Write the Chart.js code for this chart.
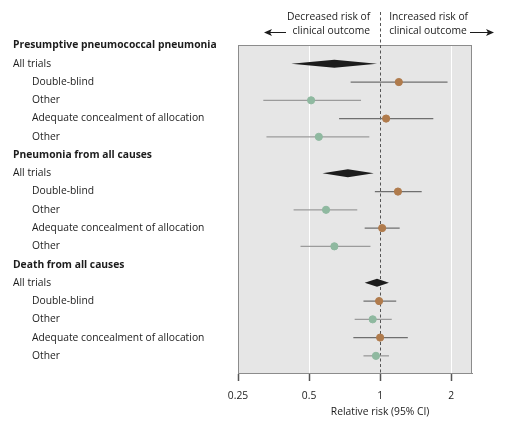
<!DOCTYPE html>
<html>
<head>
<meta charset="utf-8">
<script src="https://cdn.jsdelivr.net/npm/chart.js@4.4.0/dist/chart.umd.min.js"></script>
<style>
html, body { margin: 0; padding: 0; background: #fff; }
</style>
</head>
<body>
<canvas id="forest" width="508" height="427"></canvas>
<script>
// rows from top to bottom
let rowLabels = [
    'Presumptive pneumococcal pneumonia', 'All trials', 'Double-blind', 'Other', 'Adequate concealment of allocation', 'Other',
    'Pneumonia from all causes', 'All trials', 'Double-blind', 'Other', 'Adequate concealment of allocation', 'Other',
    'Death from all causes', 'All trials', 'Double-blind', 'Other', 'Adequate concealment of allocation', 'Other'
];
// header = outcome, pooled = all trials (diamond), a = double-blind / adequate, b = other
let rowKind = ['header', 'pooled', 'a', 'b', 'a', 'b',
               'header', 'pooled', 'a', 'b', 'a', 'b',
               'header', 'pooled', 'a', 'b', 'a', 'b'];
let estimate = [null, 0.64, 1.20, 0.51, 1.06, 0.55,
                null, 0.73, 1.19, 0.59, 1.02, 0.64,
                null, 0.97, 0.99, 0.93, 1.00, 0.96];
let lower = [null, 0.42, 0.75, 0.32, 0.67, 0.33,
             null, 0.57, 0.95, 0.43, 0.86, 0.46,
             null, 0.86, 0.85, 0.78, 0.77, 0.85];
let upper = [null, 0.97, 1.93, 0.83, 1.68, 0.90,
             null, 0.94, 1.50, 0.80, 1.21, 0.91,
             null, 1.09, 1.17, 1.12, 1.31, 1.09];
let xTicks = [0.25, 0.5, 1, 2];

const FONT = 'Open Sans';
const FSIZE = 10.3;
const brown = '#b07b4c';
const green = '#8fb9a0';

let rows = rowLabels.map((l, i) => i);

// CI whiskers, one small line dataset each
let ciSets = rows.filter(i => rowKind[i] === 'a' || rowKind[i] === 'b').map(i => ({
    type: 'line',
    data: [{x: lower[i], y: i}, {x: upper[i], y: i}],
    borderColor: rowKind[i] === 'a' ? '#6f6f6f' : '#9b9b9b',
    borderWidth: 1.3,
    pointRadius: 0,
    order: 2
}));

function pointSet(kind, color) {
    return {
        type: 'scatter',
        data: rows.filter(i => rowKind[i] === kind).map(i => ({x: estimate[i], y: i})),
        backgroundColor: color,
        borderColor: color,
        pointRadius: 3.6,
        order: 1
    };
}

const forestDecor = {
    id: 'forestDecor',
    beforeDraw(chart) {
        const {ctx, chartArea: a} = chart;
        ctx.save();
        ctx.fillStyle = '#e6e6e6';
        ctx.fillRect(a.left, a.top, a.right - a.left, a.bottom - a.top);
        ctx.restore();
    },
    beforeDatasetsDraw(chart) {
        const {ctx, chartArea: a, scales} = chart;
        ctx.save();
        ctx.strokeStyle = '#8c8c8c';
        ctx.lineWidth = 1;
        ctx.strokeRect(a.left + 0.5, a.top + 0.5, a.right - a.left - 1, a.bottom - a.top);
        // no-effect line at 1
        let x1 = Math.round(scales.x.getPixelForValue(1)) + 0.5;
        ctx.strokeStyle = '#555';
        ctx.setLineDash([3, 2.5]);
        ctx.beginPath();
        ctx.moveTo(x1, 12);
        ctx.lineTo(x1, a.bottom);
        ctx.stroke();
        ctx.restore();
    },
    afterDatasetsDraw(chart) {
        const {ctx, scales} = chart;
        ctx.save();
        ctx.fillStyle = '#1c1c1c';
        rows.filter(i => rowKind[i] === 'pooled').forEach(i => {
            let yc = scales.y.getPixelForValue(i);
            let xl = scales.x.getPixelForValue(lower[i]);
            let xm = scales.x.getPixelForValue(estimate[i]);
            let xr = scales.x.getPixelForValue(upper[i]);
            ctx.beginPath();
            ctx.moveTo(xl, yc);
            ctx.lineTo(xm, yc - 4);
            ctx.lineTo(xr, yc);
            ctx.lineTo(xm, yc + 4);
            ctx.closePath();
            ctx.fill();
        });
        ctx.restore();
    },
    afterDraw(chart) {
        const {ctx, scales} = chart;
        ctx.save();
        ctx.fillStyle = '#1c1c1c';
        ctx.textBaseline = 'middle';
        // row labels
        rows.forEach(i => {
            let y = scales.y.getPixelForValue(i);
            let head = rowKind[i] === 'header';
            ctx.font = (head ? 'bold ' : '') + FSIZE + 'px "' + FONT + '"';
            ctx.textAlign = 'left';
            let x = (head || rowKind[i] === 'pooled') ? 13 : 32;
            ctx.fillText(rowLabels[i], x, y);
        });
        // top annotation
        let x1 = scales.x.getPixelForValue(1);
        ctx.font = FSIZE + 'px "' + FONT + '"';
        ctx.textAlign = 'right';
        ctx.fillText('Decreased risk of', x1 - 10, 17);
        ctx.fillText('clinical outcome', x1 - 10, 31.5);
        ctx.textAlign = 'left';
        ctx.fillText('Increased risk of', x1 + 9, 17);
        ctx.fillText('clinical outcome', x1 + 9, 31.5);
        // arrows
        ctx.strokeStyle = '#1c1c1c';
        ctx.lineWidth = 1.2;
        ctx.beginPath();
        ctx.moveTo(286, 32.5); ctx.lineTo(268, 32.5);
        ctx.moveTo(470, 32.5); ctx.lineTo(490, 32.5);
        ctx.stroke();
        ctx.beginPath();
        ctx.moveTo(264, 32.5); ctx.lineTo(272, 29); ctx.lineTo(270, 32.5); ctx.lineTo(272, 36); ctx.closePath();
        ctx.moveTo(494, 32.5); ctx.lineTo(486, 29); ctx.lineTo(488, 32.5); ctx.lineTo(486, 36); ctx.closePath();
        ctx.fill();
        // axis title, centred under 1
        ctx.textAlign = 'center';
        ctx.fillText('Relative risk (95% CI)', x1, 412);
        ctx.restore();
    }
};

new Chart(document.getElementById('forest'), {
    data: {
        datasets: [...ciSets, pointSet('a', brown), pointSet('b', green)]
    },
    options: {
        responsive: false,
        animation: false,
        layout: { padding: { left: 238, right: 36, top: 45, bottom: 0 } },
        plugins: { legend: { display: false }, tooltip: { enabled: false } },
        scales: {
            x: {
                type: 'logarithmic',
                min: 0.25,
                max: 2.45,
                afterBuildTicks: s => { s.ticks = xTicks.map(v => ({value: v})); },
                afterFit: s => { s.height = 54; },
                grid: {
                    color: c => (c.tick && (c.tick.value === 0.5 || c.tick.value === 2)) ? '#ffffff' : 'rgba(0,0,0,0)',
                    tickColor: '#555',
                    tickLength: 8,
                    tickWidth: 1.5,
                    lineWidth: 1
                },
                border: { display: true, color: '#8c8c8c' },
                ticks: {
                    callback: v => String(v),
                    autoSkip: false,
                    maxRotation: 0,
                    padding: 9,
                    color: '#1c1c1c',
                    font: { family: FONT, size: FSIZE }
                }
            },
            y: {
                type: 'linear',
                display: false,
                reverse: true,
                min: -0.03,
                max: 17.94
            }
        }
    },
    plugins: [forestDecor]
});
</script>
</body>
</html>
